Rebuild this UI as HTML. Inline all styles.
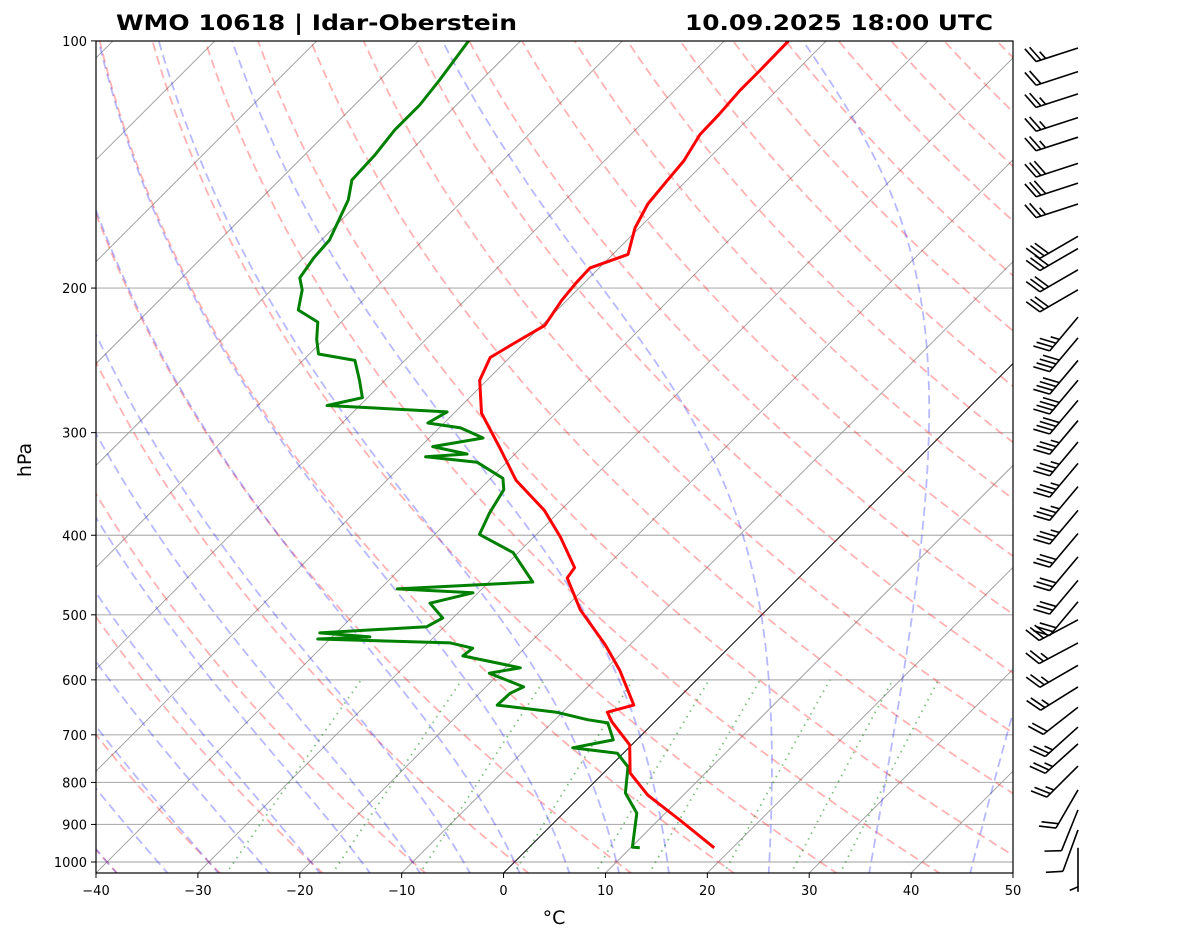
<!DOCTYPE html>
<html><head><meta charset="utf-8"><style>
html,body{margin:0;padding:0;background:#fff}
svg{display:block;font-family:"DejaVu Sans","Liberation Sans",sans-serif}
</style></head><body>
<svg id="chart" width="1181" height="941" viewBox="0 0 1181 941">
<defs><clipPath id="plotclip"><rect x="96" y="41" width="917" height="832"/></clipPath></defs>
<rect x="0" y="0" width="1181" height="941" fill="#fff"/>
<text x="116" y="30" font-size="21.5" font-weight="bold" textLength="401" lengthAdjust="spacingAndGlyphs">WMO 10618 | Idar-Oberstein</text>
<text x="685" y="30" font-size="21.5" font-weight="bold" textLength="308" lengthAdjust="spacingAndGlyphs">10.09.2025 18:00 UTC</text>
<g id="plot" clip-path="url(#plotclip)"></g>
<g id="axes"></g>
<g id="barbs"></g>
<text x="554" y="924" font-size="19" text-anchor="middle">°C</text>
<text x="31" y="460" font-size="19" text-anchor="middle" transform="rotate(-90 31 460)">hPa</text>
</svg>
<script>
const tempP=[961,889,829,779,720,675,657,644,617,584,544,493,451,438,402,373,343,313,284,259,243,233,222,207,197,189,182,169,158,148,140,130,123,115,108.5,100];
const tempT=[18.2,12.1,6.5,2.6,-0.2,-4.2,-5.6,-3.7,-5.8,-8.5,-12.4,-18.3,-22.7,-23.0,-27.4,-31.6,-37.3,-42.1,-47.3,-50.7,-51.9,-50.9,-49.7,-50.5,-50.8,-50.9,-48.5,-50.4,-51.5,-51.9,-52.2,-53.2,-53.3,-53.6,-53.6,-53.7];
const dewP=[961,959,872,824,766,737,726,710,677,671,657,644,623,612,589,580,561,549,541,535,532,526,517,504.5,484,470,465,456,420,399,376,352,341,326,321,318.5,312,304.5,296,292,283,278,272,259,245,240.6,231,220,212.7,201,194.4,183.8,174.8,156.2,147.7,137.7,128.4,119.7,111.6,100];
const dewT=[10.9,10.1,7.2,4.1,1.8,-0.6,-5.5,-2.3,-4.5,-6.8,-10.6,-17.1,-17.0,-16.3,-21.0,-18.5,-25.3,-25.1,-27.8,-41.2,-36.3,-41.6,-31.7,-31.0,-33.7,-30.5,-38.3,-25.7,-30.5,-35.6,-36.7,-37.6,-38.8,-42.9,-48.5,-44.7,-48.8,-44.7,-47.9,-51.6,-50.8,-63.2,-60.5,-62.5,-64.9,-69.1,-70.7,-72.3,-75.4,-77.0,-78.4,-79.0,-79.2,-81.3,-82.9,-83.1,-83.6,-83.6,-84.1,-85.1];
const xTicks=[-40,-30,-20,-10,0,10,20,30,40,50];
const yTicks=[100,200,300,400,500,600,700,800,900,1000];
const dryT0=[-40,-30,-20,-10,0,10,20,30,40,50,60,70,80,90,100,110,120,130,140,150,160,170,180,190,200];
const moistT0=[-50,-45,-40,-35,-30,-25,-20,-15,-10,-5,0,5,10,15,25,35,45];
const mixRatios=[0.0004,0.001,0.002,0.004,0.007,0.01,0.016,0.024,0.032];
const barbP=[102,109,116,124,131,141,149,158,173,179,190,201,217,230,245,259,274,290,308,327,349,373,398,425,454,482,507,541,576,612,648,685,718,764,817,864,914,961];
const barbKt=[25,20,25,25,25,30,30,25,30,30,30,30,35,40,40,40,40,35,35,35,35,35,30,30,30,30,30,25,25,25,20,25,25,25,20,10,10,5];
const barbDir=[252,252,252,252,252,252,252,252,240,240,240,240,220,220,220,220,220,220,220,220,220,220,220,220,220,220,242,242,240,238,232,228,228,225,210,202,200,180];

const NS='http://www.w3.org/2000/svg';
const X0=96,X1=1013,Y0=41,YB=873,Y1000=862,SCL=356.6,PXC=(X1-X0)/90;
function yP(p){return Y1000+SCL*Math.log(p/1000);}
function xT(t,p){const y=yP(p);return X0+(t+40)*PXC+(YB-y);}
function mk(tag,attrs,parent){const e=document.createElementNS(NS,tag);for(const k in attrs)e.setAttribute(k,attrs[k]);parent.appendChild(e);return e;}
const plot=document.getElementById('plot'),axes=document.getElementById('axes'),barbs=document.getElementById('barbs');
function pathFrom(ps,ts){return ps.map((p,i)=>(i?'L':'M')+xT(ts[i],p).toFixed(1)+' '+yP(p).toFixed(1)).join(' ');}
const PB=1035;
yTicks.forEach(p=>{const l=mk('line',{x1:X0,x2:X1,y1:yP(p),y2:yP(p),stroke:'#b0b0b0','stroke-width':1.2},plot);

});
for(let t=-140;t<=50;t+=10){const l=mk('line',{x1:xT(t,PB),y1:yP(PB),x2:xT(t,90),y2:yP(90),stroke:t===0?'#000':'#999','stroke-width':t===0?1:0.9},plot);

}
const plev=[];for(let p=PB;p>=95;p-=5)plev.push(p);
dryT0.forEach(t0=>{const th=t0+273.15;const ts=plev.map(p=>th*Math.pow(p/1000,0.2857)-273.15);
const e=mk('path',{d:pathFrom(plev,ts),fill:'none',stroke:'#ff0000','stroke-opacity':0.3,'stroke-width':1.8,'stroke-dasharray':'9,5'},plot);

});
function rs(T,p){const tc=T-273.15;const es=6.112*Math.exp(17.67*tc/(tc+243.5));return 0.622*es/(p-es);}
function dTdp(T,p){const r=rs(T,p),Lv=2.501e6,Rd=287.04,Cp=1005.7,eps=0.622;return (Rd*T+Lv*r)/(Cp+Lv*Lv*r*eps/(Rd*T*T))/p;}
function moist(t0){const up=[],dn=[];let T=t0+273.15,p=1000,h=-2;while(p>95){up.push([p,T-273.15]);const k1=dTdp(T,p),k2=dTdp(T+h/2*k1,p+h/2),k3=dTdp(T+h/2*k2,p+h/2),k4=dTdp(T+h*k3,p+h);T+=h/6*(k1+2*k2+2*k3+k4);p+=h;}
T=t0+273.15;p=1000;h=2;while(p<PB+2){const k1=dTdp(T,p),k2=dTdp(T+h/2*k1,p+h/2),k3=dTdp(T+h/2*k2,p+h/2),k4=dTdp(T+h*k3,p+h);T+=h/6*(k1+2*k2+2*k3+k4);p+=h;dn.unshift([p,T-273.15]);}
return dn.concat(up);}
moistT0.forEach(t0=>{const a=moist(t0);const e=mk('path',{d:pathFrom(a.map(v=>v[0]),a.map(v=>v[1])),fill:'none',stroke:'#0000ff','stroke-opacity':0.28,'stroke-width':1.8,'stroke-dasharray':'9,5'},plot);

});
const mlev=[];for(let p=PB;p>=600;p-=5)mlev.push(p);mlev.push(600);
mixRatios.forEach(w=>{const ts=mlev.map(p=>{const e=p*w/(0.622+w);const l=Math.log(e/6.112);return 243.5*l/(17.67-l);});
const e=mk('path',{d:pathFrom(mlev,ts),fill:'none',stroke:'#008000','stroke-opacity':0.5,'stroke-width':1.8,'stroke-dasharray':'1.5,5'},plot);

});
const dp=mk('path',{d:pathFrom(dewP,dewT),fill:'none',stroke:'#008000','stroke-width':3,'stroke-linejoin':'round'},plot);


const tp=mk('path',{d:pathFrom(tempP,tempT),fill:'none',stroke:'#ff0000','stroke-width':3,'stroke-linejoin':'round'},plot);


const fr=mk('rect',{x:X0,y:Y0,width:X1-X0,height:YB-Y0,fill:'none',stroke:'#000','stroke-width':1.2},axes);


xTicks.forEach(t=>{const x=X0+(t+40)*PXC;mk('line',{x1:x,x2:x,y1:YB,y2:YB+5,stroke:'#000'},axes);
const tx=mk('text',{x:x,y:YB+22,'font-size':13,'text-anchor':'middle'},axes);tx.textContent=(t<0?'\u2212'+(-t):String(t));

});
yTicks.forEach(p=>{const y=yP(p);mk('line',{x1:X0-5,x2:X0,y1:y,y2:y,stroke:'#000'},axes);
const tx=mk('text',{x:X0-9,y:y+5,'font-size':13,'text-anchor':'end'},axes);tx.textContent=String(p);

});
barbP.forEach((p,i)=>{const ox=1078,oy=yP(p),d=barbDir[i]*Math.PI/180;const ux=Math.sin(d),uy=-Math.cos(d);const L=44;
const tx=ox+ux*L,ty=oy+uy*L;const g=mk('g',{stroke:'#000','stroke-width':1.6,fill:'none'},barbs);


mk('line',{x1:ox,y1:oy,x2:tx,y2:ty},g);
const px=-uy,py=ux;let kt=barbKt[i];let pos=0;
let full=Math.floor(kt/10),half=(kt%10)>=5?1:0;
if(full===0&&half===1)pos=5;
for(let k=0;k<full+half;k++){const bx=tx-ux*pos,by=ty-uy*pos;const len=(k<full)?17:9;
mk('line',{x1:bx,y1:by,x2:bx+px*len*0.92+ux*len*0.4,y2:by+py*len*0.92+uy*len*0.4},g);pos+=5;}
});
</script>
</body></html>
